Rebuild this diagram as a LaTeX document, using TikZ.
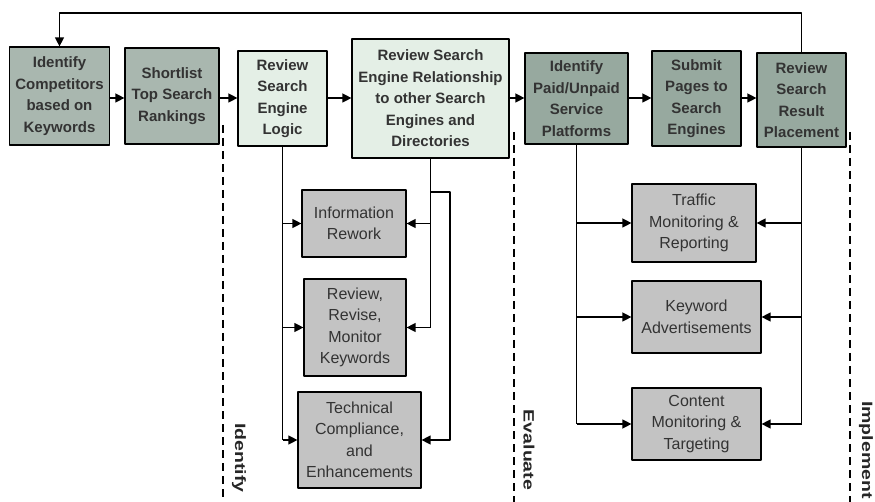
\documentclass[tikz,border=0pt]{standalone}
\usepackage{fontspec}
\setmainfont{Liberation Sans}
\usetikzlibrary{arrows.meta}
\definecolor{xamdam}{HTML}{A9B7AF}
\definecolor{xamnhat}{HTML}{E4EFE6}
\definecolor{xamxanh}{HTML}{97A99F}
\definecolor{xambac}{HTML}{C3C3C3}
\begin{document}
\begin{tikzpicture}[x=1pt, y=-1pt, line join=round, >={Triangle[length=9pt,width=9pt]},
	hop/.style={draw=black, line width=1.2pt, align=center, inner sep=0pt, text=black!80, font=\fontsize{15}{21.5}\selectfont\bfseries},
	hopnho/.style={hop, fill=xambac, font=\fontsize{16}{21.5}\selectfont},
	nhan/.style={rotate=-90, text=black!85, font=\fontsize{15}{18}\selectfont\bfseries},
	day/.style={line width=1.3pt},
	ranh/.style={line width=1.2pt, dash pattern=on 8pt off 5pt}]
	\useasboundingbox (0,0) rectangle (875,502);
	% Hàng trên
	\node[hop, fill=xamdam, minimum width=100pt, minimum height=98pt] (b1) at (59.5,96) {Identify\\Competitors\\based on\\Keywords};
	\node[hop, fill=xamdam, minimum width=94pt, minimum height=96pt] (b2) at (172,96) {Shortlist\\Top Search\\Rankings};
	\node[hop, fill=xamnhat, minimum width=89pt, minimum height=95pt] (b3) at (282.5,98.5) {Review\\Search\\Engine\\Logic};
	\node[hop, fill=xamnhat, minimum width=157pt, minimum height=119pt] (b4) at (430.5,98.5) {Review Search\\Engine Relationship\\to other Search\\Engines and\\Directories};
	\node[hop, fill=xamxanh, minimum width=103pt, minimum height=91pt] (b5) at (576.5,98.5) {Identify\\Paid/Unpaid\\Service\\Platforms};
	\node[hop, fill=xamxanh, minimum width=89pt, minimum height=95pt] (b6) at (696.5,98.5) {Submit\\Pages to\\Search\\Engines};
	\node[hop, fill=xamxanh, minimum width=89pt, minimum height=94pt] (b7) at (801.5,100) {Review\\Search\\Result\\Placement};
	% Hộp dưới
	\node[hopnho, minimum width=104pt, minimum height=67pt] (info) at (354,223.5) {Information\\Rework};
	\node[hopnho, minimum width=102pt, minimum height=97pt] (rev) at (355,327.5) {Review,\\Revise,\\Monitor\\Keywords};
	\node[hopnho, minimum width=123pt, minimum height=96pt] (tech) at (359.5,440) {Technical\\Compliance,\\and\\Enhancements};
	\node[hopnho, minimum width=124pt, minimum height=78pt] (traf) at (694,223) {Traffic\\Monitoring \&\\Reporting};
	\node[hopnho, minimum width=129pt, minimum height=72pt] (kw) at (696.5,317) {Keyword\\Advertisements};
	\node[hopnho, minimum width=129pt, minimum height=72pt] (cont) at (696.5,424) {Content\\Monitoring \&\\Targeting};
	% Mũi tên hàng trên
	\coordinate (tren) at (0,13);
	\draw[day,->] (b1.east |- 0,98) -- (b2.west |- 0,98);
	\draw[day,->] (b2.east |- 0,98) -- (b3.west |- 0,98);
	\draw[day,->] (b3.east |- 0,98) -- (b4.west |- 0,98);
	\draw[day,->] (b4.east |- 0,98) -- (b5.west |- 0,98);
	\draw[day,->] (b5.east |- 0,98) -- (b6.west |- 0,98);
	\draw[day,->] (b6.east |- 0,98) -- (b7.west |- 0,98);
	\draw[day,->] (b7.north) -- (b7.north |- tren) -- (b1.north |- tren) -- (b1.north);
	% Nhánh trái
	\draw[day] (b3.south) -- (b3.south |- tech.west);
	\draw[day,->] (b3.south |- info.west) -- (info.west);
	\draw[day,->] (b3.south |- rev.west) -- (rev.west);
	\draw[day,->] (b3.south |- tech.west) -- (tech.west);
	\coordinate (vong) at (450,192);
	\draw[day] (b4.south) -- (b4.south |- rev.east);
	\draw[day,->] (b4.south |- info.east) -- (info.east);
	\draw[day,->] (b4.south |- rev.east) -- (rev.east);
	\draw[day,->] (b4.south |- vong) -- (vong) |- (tech.east);
	% Nhánh phải
	\draw[day] (b5.south) -- (b5.south |- cont.west);
	\draw[day,->] (b5.south |- traf.west) -- (traf.west);
	\draw[day,->] (b5.south |- kw.west) -- (kw.west);
	\draw[day,->] (b5.south |- cont.west) -- (cont.west);
	\draw[day] (b7.south) -- (b7.south |- cont.east);
	\draw[day,->] (b7.south |- traf.east) -- (traf.east);
	\draw[day,->] (b7.south |- kw.east) -- (kw.east);
	\draw[day,->] (b7.south |- cont.east) -- (cont.east);
	% Đường chia giai đoạn
	\draw[ranh] (223,125) -- (223,502);
	\draw[ranh] (514,132) -- (514,502);
	\draw[ranh] (850,132) -- (850,502);
	\node[nhan] (l1) at (239,458) {\scalebox{1.3}[1]{Identify}};
	\node[nhan] (l2) at (529,450) {\scalebox{1.3}[1]{Evaluate}};
	\node[nhan] (l3) at (866,450) {\scalebox{1.3}[1]{Implement}};
\end{tikzpicture}
\end{document}
